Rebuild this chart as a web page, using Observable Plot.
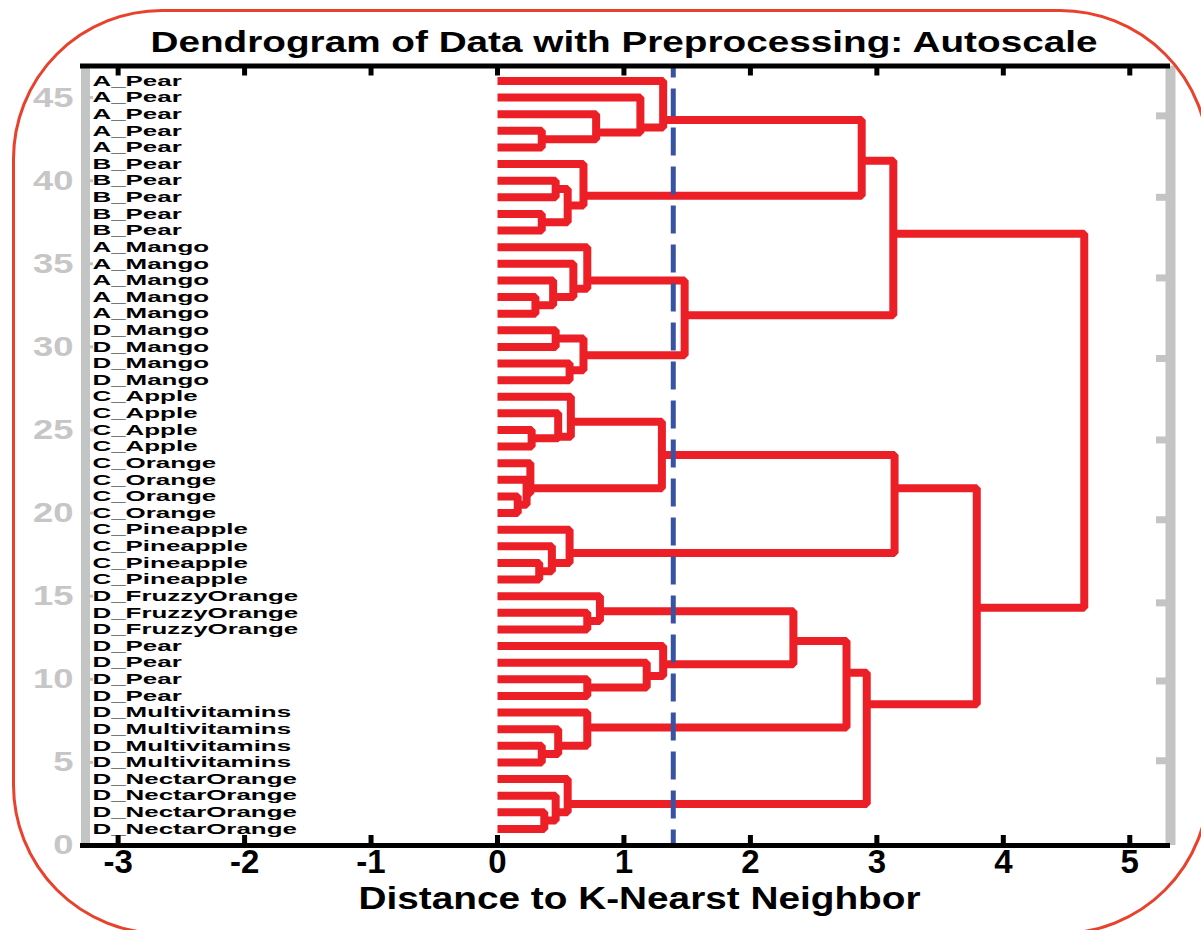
<!DOCTYPE html>
<html>
<head>
<meta charset="utf-8">
<script src="https://cdn.jsdelivr.net/npm/d3@7"></script>
<script src="https://cdn.jsdelivr.net/npm/@observablehq/plot@0.6"></script>
<style>
  html, body { margin: 0; padding: 0; background: #fff; }
  #wrap { position: relative; width: 1201px; height: 930px; overflow: hidden; background: #fff; }
  #wrap svg { position: absolute; left: 0; top: 0; }
  #border { position: absolute; left: 12px; top: 9px; width: 1198px; height: 926px; border: 3px solid #e8412c;
            border-radius: 150px; box-sizing: border-box; pointer-events: none; }
</style>
</head>
<body>
<div id="wrap"></div>
<script>
// ---- data ----
const leafLabels = [
  "A_Pear","A_Pear","A_Pear","A_Pear","A_Pear",
  "B_Pear","B_Pear","B_Pear","B_Pear","B_Pear",
  "A_Mango","A_Mango","A_Mango","A_Mango","A_Mango",
  "D_Mango","D_Mango","D_Mango","D_Mango",
  "C_Apple","C_Apple","C_Apple","C_Apple",
  "C_Orange","C_Orange","C_Orange","C_Orange",
  "C_Pineapple","C_Pineapple","C_Pineapple","C_Pineapple",
  "D_FruzzyOrange","D_FruzzyOrange","D_FruzzyOrange",
  "D_Pear","D_Pear","D_Pear","D_Pear",
  "D_Multivitamins","D_Multivitamins","D_Multivitamins","D_Multivitamins",
  "D_NectarOrange","D_NectarOrange","D_NectarOrange","D_NectarOrange"
];
// leaves are numbered 1 (bottom) .. 46 (top); merge k gets id 46 + k
const mergeA      = [43, 44, 45, 46, 40, 38, 51, 41, 50, 33, 34, 35, 36, 31, 29, 60, 59, 55,
                     25, 26, 27, 21, 22, 23, 67, 17, 18, 19, 71, 14, 15, 10, 11, 12, 77,  6,  7,  8, 81,  2,  3,  4, 85, 75, 64];
const mergeB      = [42, 47, 48, 49, 39, 37, 52, 53, 54, 32, 56, 57, 58, 30, 28, 61, 62, 63,
                     24, 65, 66, 20, 68, 69, 70, 16, 72, 73, 74, 13, 76,  9, 78, 79, 80,  5, 82, 83, 84,  1, 86, 87, 88, 89, 90];
const mergeHeight = [0.35, 0.78, 1.13, 1.31, 0.46, 0.35, 0.555, 0.68, 2.88, 0.30, 0.44, 0.60, 0.71, 0.46, 0.57, 0.68, 1.48, 3.13,
                     0.27, 0.48, 0.58, 0.16, 0.23, 0.26, 1.30, 0.33, 0.43, 0.57, 3.14, 0.71, 0.81, 0.71, 1.18, 1.31, 2.34,
                     0.35, 0.48, 0.71, 2.76, 0.37, 0.46, 0.555, 2.92, 3.79, 4.64];
const mergeY      = [42.5, 42.9, 43.2, 43.65, 39.5, 37.5, 38.5, 39.1, 41.2, 32.5, 33.0, 33.5, 34.0, 30.5, 28.6, 29.5, 31.9, 36.8,
                     24.5, 24.6, 25.5, 20.5, 21.2, 21.5, 23.5, 16.5, 17.0, 17.6, 21.5, 13.5, 14.1, 9.5, 10.2, 10.9, 12.3,
                     5.5, 6.0, 7.1, 10.4, 1.5, 2.0, 2.5, 8.5, 14.3, 25.5];
const cutoff = 1.39;
const xTicks = [-3, -2, -1, 0, 1, 2, 3, 4, 5];
const yTicks = [0, 5, 10, 15, 20, 25, 30, 35, 40, 45];
const rightTicks = [43.9, 39.0, 34.15, 29.3, 24.4, 19.6, 14.6, 9.9, 5.1];
const xDomain = [-3.258, 5.322];
const yDomain = [0, 46.9];
const titleText = "Dendrogram of Data with Preprocessing: Autoscale";
const xLabelText = "Distance to K-Nearst Neighbor";

// ---- build dendrogram segments ----
const nLeaves = leafLabels.length;
const leaves = leafLabels.map((label, i) => ({label, pos: nLeaves - i}));
const nodeX = new Map(), nodeY = new Map();
leaves.forEach(d => { nodeX.set(d.pos, 0); nodeY.set(d.pos, d.pos); });
const segs = [];
mergeA.forEach((a, i) => {
  const id = nLeaves + 1 + i, b = mergeB[i], h = mergeHeight[i];
  segs.push(
    {id, x: nodeX.get(a), y: nodeY.get(a)},
    {id, x: h, y: nodeY.get(a)},
    {id, x: h, y: nodeY.get(b)},
    {id, x: nodeX.get(b), y: nodeY.get(b)}
  );
  nodeX.set(id, h);
  nodeY.set(id, mergeY[i]);
});

const RED = "#ec1f26", BLUE = "#3953a4", GRAY = "#c3c4c4", LABELGRAY = "#c6c6c6";
const FONT = "'Liberation Sans', Arial, Helvetica, sans-serif";

const chart = Plot.plot({
  width: 1201, height: 930,
  marginLeft: 85, marginRight: 31, marginTop: 65.5, marginBottom: 85,
  style: {fontFamily: FONT, background: "transparent", overflow: "visible"},
  x: {domain: xDomain},
  y: {domain: yDomain},
  marks: [
    Plot.line(segs, {x: "x", y: "y", z: "id", stroke: RED, strokeWidth: 8,
                     strokeLinejoin: "miter", strokeLinecap: "butt", curve: "linear"}),
    Plot.ruleX([cutoff], {stroke: BLUE, strokeWidth: 5, strokeDasharray: "28,11", strokeDashoffset: 16}),
    Plot.text(leaves, {y: "pos", text: "label", frameAnchor: "left", textAnchor: "start", lineAnchor: "middle",
                       dx: 7, fontSize: 14.8, fontWeight: "bold", fill: "#000"}),
    Plot.ruleX([xDomain[0]], {stroke: GRAY, strokeWidth: 9}),
    Plot.ruleX([xDomain[1]], {stroke: GRAY, strokeWidth: 10}),
    Plot.axisY({anchor: "left", ticks: yTicks, tickSize: -8, tickFormat: () => "", stroke: GRAY, strokeWidth: 3, label: null}),
    Plot.axisY({anchor: "left", ticks: yTicks, tickSize: 0, tickPadding: 12, tickFormat: d => String(d),
                fontSize: 28, fontWeight: "bold", fill: LABELGRAY, label: null}),
    Plot.axisY({anchor: "right", ticks: rightTicks, tickSize: -15, tickFormat: () => "", stroke: GRAY, strokeWidth: 7, label: null}),
    Plot.ruleY([yDomain[1]], {stroke: "#000", strokeWidth: 5, insetLeft: -5}),
    Plot.ruleY([yDomain[0]], {stroke: "#000", strokeWidth: 5, insetLeft: -5}),
    Plot.axisX({anchor: "top", ticks: xTicks, tickSize: -9, tickFormat: () => "", stroke: "#000", strokeWidth: 5, label: null}),
    Plot.axisX({anchor: "bottom", ticks: xTicks, tickSize: -10, tickFormat: () => "", stroke: "#000", strokeWidth: 5, label: null}),
    Plot.axisX({anchor: "bottom", ticks: xTicks, tickSize: 0, tickPadding: 4, tickFormat: d => String(d),
                fontSize: 33, fontWeight: "bold", fill: "#000", label: null}),
    Plot.text([titleText], {text: d => d, frameAnchor: "top", lineAnchor: "middle", dy: -24, dx: -4,
                            fontSize: 30, fontWeight: "bold", fill: "#000"}),
    Plot.text([xLabelText], {text: d => d, frameAnchor: "bottom", lineAnchor: "middle", dy: 53, dx: 11.5,
                             fontSize: 32, fontWeight: "bold", fill: "#000"})
  ]
});

const wrap = document.getElementById("wrap");
wrap.appendChild(chart);
const border = document.createElement("div");
border.id = "border";
wrap.appendChild(border);

// horizontal stretch of the texts, as in the reference
const leafSet = new Set(leafLabels);
chart.querySelectorAll("text").forEach(t => {
  const s = t.textContent;
  const L = t.getComputedTextLength();
  if (!L) return;
  const parentLabel = (t.parentNode && t.parentNode.getAttribute && t.parentNode.getAttribute("aria-label")) || "";
  let target = null;
  if (s === titleText) target = 947;
  else if (s === xLabelText) target = 562;
  else if (leafSet.has(s)) target = L * 1.75;
  else if (/y-axis/.test(parentLabel)) target = L * 1.3;
  if (target) { t.setAttribute("textLength", target); t.setAttribute("lengthAdjust", "spacingAndGlyphs"); }
});
</script>
</body>
</html>
